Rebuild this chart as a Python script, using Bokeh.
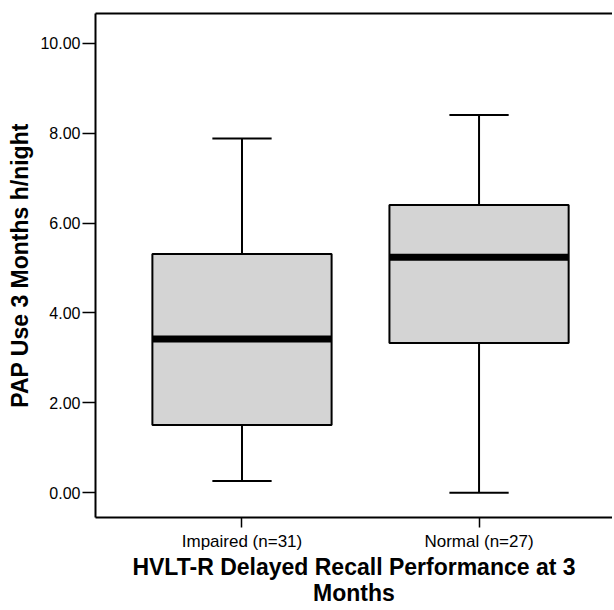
from bokeh.plotting import figure
from bokeh.models import FixedTicker, LinearAxis, Range1d, ColumnDataSource
from bokeh.embed import file_html
from bokeh.resources import INLINE

categories = ["Impaired (n=31)", "Normal (n=27)"]
lower = [0.26, 0.0]
q1 = [1.51, 3.33]
median = [3.42, 5.24]
q3 = [5.31, 6.40]
upper = [7.88, 8.40]
yticks = [0, 2, 4, 6, 8, 10]

xs = list(range(len(categories)))
box_w = 0.756
cap_w = 0.25

src = ColumnDataSource(dict(
    x=xs, lower=lower, q1=q1, median=median, q3=q3, upper=upper,
    bl=[x - box_w / 2 for x in xs], br=[x + box_w / 2 for x in xs],
    cl=[x - cap_w / 2 for x in xs], cr=[x + cap_w / 2 for x in xs],
))

p = figure(width=612, height=608, output_backend="svg", toolbar_location=None,
           x_range=Range1d(-0.618, 1.563), y_range=Range1d(-0.55, 10.66),
           min_border_left=95, min_border_top=13, min_border_right=0, min_border_bottom=84)
p.outline_line_color = None
p.grid.visible = False
p.background_fill_color = "white"

# whiskers
p.segment(x0="x", y0="q3", x1="x", y1="upper", source=src, line_color="black", line_width=2)
p.segment(x0="x", y0="q1", x1="x", y1="lower", source=src, line_color="black", line_width=2)
p.segment(x0="cl", y0="upper", x1="cr", y1="upper", source=src, line_color="black", line_width=2)
p.segment(x0="cl", y0="lower", x1="cr", y1="lower", source=src, line_color="black", line_width=2)
# boxes
p.vbar(x="x", width=box_w, bottom="q1", top="q3", source=src,
       fill_color="#d4d4d4", line_color="black", line_width=2)
# medians
p.segment(x0="bl", y0="median", x1="br", y1="median", source=src, line_color="black", line_width=7)

font = "Liberation Sans"
# y axis
ya = p.yaxis[0]
ya.ticker = FixedTicker(ticks=yticks)
ya.major_label_overrides = {t: f"{t:.2f}" for t in yticks}
ya.axis_label = "PAP Use 3 Months h/night"
ya.axis_label_text_font = font
ya.axis_label_text_font_style = "bold"
ya.axis_label_text_font_size = "23px"
ya.axis_label_text_color = "black"
ya.axis_label_standoff = 4
ya.major_label_text_font = font
ya.major_label_text_font_size = "16px"
ya.major_label_text_color = "black"
ya.major_label_standoff = 2
ya.major_tick_out = 13
ya.major_tick_in = 0
ya.minor_tick_line_color = None
ya.axis_line_width = 2
ya.major_tick_line_width = 1.5

xa = p.xaxis[0]
xa.ticker = FixedTicker(ticks=xs)
xa.major_label_overrides = {x: c for x, c in zip(xs, categories)}
xa.axis_label = "HVLT-R Delayed Recall Performance at 3\nMonths"
xa.axis_label_text_font = font
xa.axis_label_text_font_style = "bold"
xa.axis_label_text_font_size = "23px"
xa.axis_label_text_color = "black"
xa.axis_label_text_line_height = 1.0
xa.axis_label_standoff = 0
xa.major_label_text_font = font
xa.major_label_text_font_size = "17px"
xa.major_label_text_color = "black"
xa.major_label_standoff = 4
xa.major_tick_out = 10
xa.major_tick_in = 0
xa.minor_tick_line_color = None
xa.axis_line_width = 2
xa.major_tick_line_width = 1.5

top = LinearAxis(ticker=FixedTicker(ticks=[]), major_label_text_font_size="0px",
                 major_tick_line_color=None, minor_tick_line_color=None, axis_line_width=2)
p.add_layout(top, "above")

open("out.html", "w").write(file_html(p, INLINE))
